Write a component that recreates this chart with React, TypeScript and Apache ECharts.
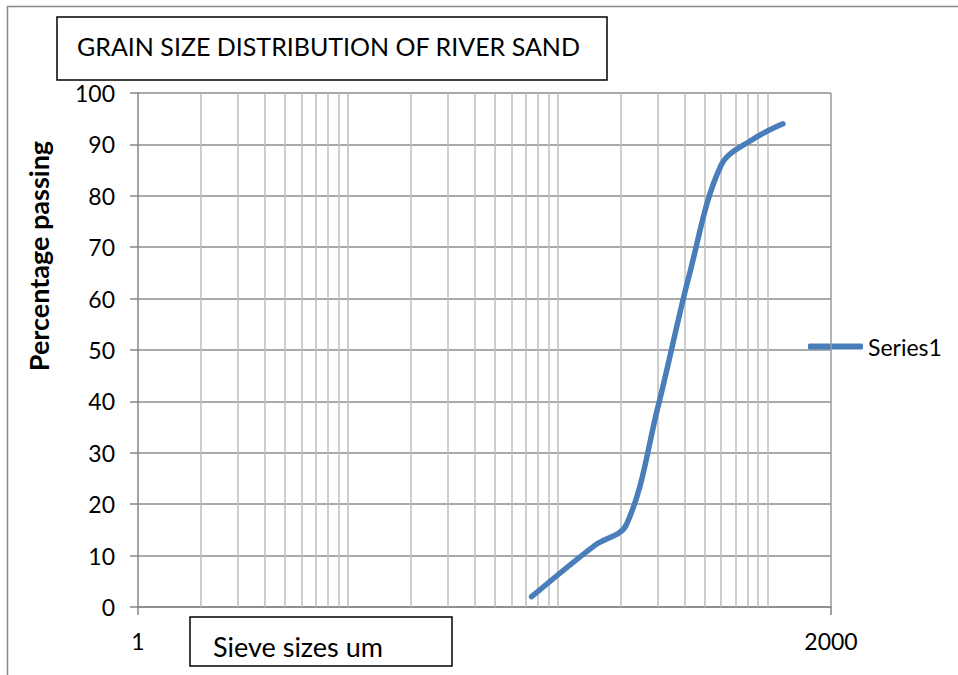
import React, { useEffect, useRef } from "react";
import * as echarts from "echarts";

const sieveSizes = [75, 150, 212, 300, 425, 600, 850, 1180];
const percentPassing = [2, 12, 16, 39, 65, 86, 91, 94];
const verticalGridValues = [2, 3, 4, 5, 6, 7, 8, 9, 10, 20, 30, 40, 50, 60, 70, 80, 90, 100, 200, 300, 400, 500, 600, 700, 800, 900, 1000];
const xLabelValues = [1, 2000];
const seriesName = "Series1";
const chartTitle = "GRAIN SIZE DISTRIBUTION OF RIVER SAND";
const xTitle = "Sieve sizes um";
const yTitle = "Percentage passing";

const FONT = "Lato";

export default function App() {
  const ref = useRef<HTMLDivElement>(null);
  useEffect(() => {
    if (!ref.current) return;
    const chart = echarts.init(ref.current, null, { renderer: "svg" });
    const points = sieveSizes.map((s, i) => [s, percentPassing[i]]);
    chart.setOption({
      animation: false,
      backgroundColor: "#ffffff",
      textStyle: { fontFamily: FONT },
      grid: { left: 138, right: 127, top: 93, bottom: 68, containLabel: false },
      legend: {
        data: [seriesName],
        left: 803,
        top: 330,
        orient: "vertical",
        icon: "roundRect",
        itemWidth: 55,
        itemHeight: 6,
        itemGap: 0,
        textStyle: { fontFamily: FONT, fontSize: 23, color: "#000" },
      },
      xAxis: {
        type: "log",
        logBase: 10,
        min: 1,
        max: 2000,
        axisLine: { show: true, lineStyle: { color: "#868686", width: 1.5 } },
        axisTick: { show: true, length: 8, customValues: xLabelValues, lineStyle: { color: "#868686", width: 1.5 } },
        axisLabel: {
          show: true,
          customValues: xLabelValues,
          margin: 22,
          fontFamily: FONT,
          fontSize: 23,
          color: "#000",
          formatter: (v: number) => String(Math.round(v)),
        },
        splitLine: { show: false },
        minorTick: { show: false },
        minorSplitLine: { show: false },
      },
      yAxis: {
        type: "value",
        min: 0,
        max: 100,
        interval: 10,
        axisLine: { show: true, lineStyle: { color: "#868686", width: 1.5 } },
        axisTick: { show: true, length: 8, inside: false, lineStyle: { color: "#868686", width: 1.5 } },
        axisLabel: { margin: 23, fontFamily: FONT, fontSize: 23, color: "#000" },
        splitLine: { show: true, lineStyle: { color: "#8c8c8c", width: 1.5 } },
      },
      series: [
        {
          name: "grid",
          type: "line",
          data: points,
          showSymbol: false,
          lineStyle: { opacity: 0 },
          silent: true,
          z: 1,
          markLine: {
            silent: true,
            symbol: ["none", "none"],
            label: { show: false },
            lineStyle: { color: "#bdbdbd", width: 1.5, type: "solid" },
            data: [...verticalGridValues.map((v) => ({ xAxis: v })), { xAxis: 2000, lineStyle: { color: "#9a9a9a", width: 1.5, type: "solid" } }],
          },
        },
        {
          name: seriesName,
          type: "line",
          data: points,
          smooth: 0.35,
          showSymbol: false,
          symbol: "none",
          z: 5,
          itemStyle: { color: "#4a7ebb" },
          lineStyle: { color: "#4a7ebb", width: 5.5, cap: "round", join: "round" },
        },
      ],
      graphic: [
        {
          type: "rect",
          shape: { x: 7.5, y: 6.5, width: 1000, height: 1000 },
          style: { fill: "none", stroke: "#868686", lineWidth: 1.5 },
          silent: true,
          z: 100,
        },
        {
          type: "text",
          x: 38,
          y: 256,
          rotation: Math.PI / 2,
          z: 100,
          style: { text: yTitle, fontFamily: FONT, fontSize: 27, fontWeight: "bold", fill: "#000", align: "center", verticalAlign: "middle" },
        },
        {
          type: "group",
          z: 100,
          children: [
            {
              type: "rect",
              shape: { x: 57, y: 17, width: 550, height: 63 },
              style: { fill: "#ffffff", stroke: "#000000", lineWidth: 1.5 },
            },
            {
              type: "text",
              x: 77,
              y: 46,
              style: { text: chartTitle, fontFamily: FONT, fontSize: 25, fill: "#000", verticalAlign: "middle", align: "left" },
            },
          ],
        },
        {
          type: "group",
          z: 100,
          children: [
            {
              type: "rect",
              shape: { x: 190, y: 617, width: 262, height: 49 },
              style: { fill: "#ffffff", stroke: "#000000", lineWidth: 1.5 },
            },
            {
              type: "text",
              x: 213,
              y: 646,
              style: { text: xTitle, fontFamily: FONT, fontSize: 27, fill: "#000", verticalAlign: "middle", align: "left" },
            },
          ],
        },
      ],
    });
    return () => chart.dispose();
  }, []);
  return <div ref={ref} style={{ position: "fixed", left: 0, top: 0, width: 958, height: 675 }} />;
}
